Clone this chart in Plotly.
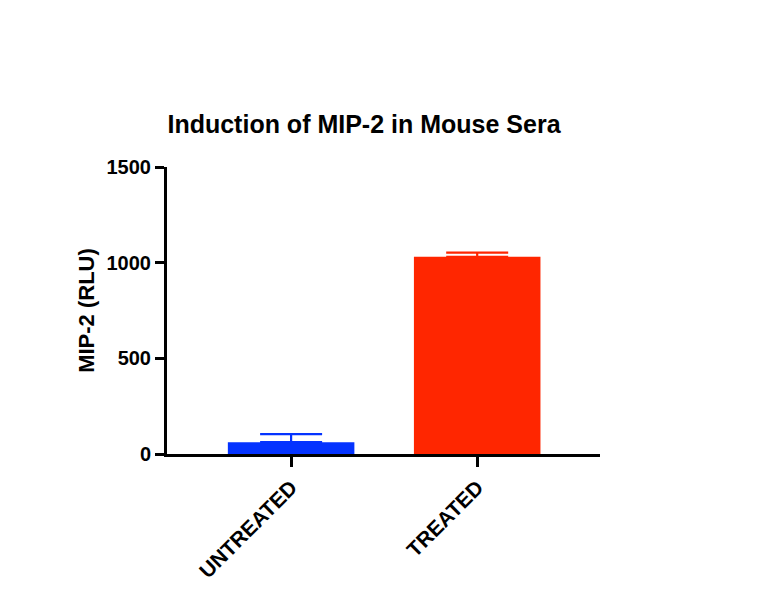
import plotly.graph_objects as go

# values
groups = ["UNTREATED", "TREATED"]
mip2_mean = [62, 1031]
mip2_err = [42, 21]
bar_colors = ["#0433FF", "#FF2600"]
y_ticks = [0, 500, 1000, 1500]

fig = go.Figure()
fig.add_trace(go.Bar(
    x=groups,
    y=mip2_mean,
    width=0.68,
    marker=dict(color=bar_colors, line=dict(width=0)),
    showlegend=False,
))
# error bars take one colour per trace, so draw each group's bar on its own
for g, m, e, c in zip(groups, mip2_mean, mip2_err, bar_colors):
    fig.add_trace(go.Scatter(
        x=[g], y=[m], mode="markers", marker=dict(size=1, color="rgba(0,0,0,0)"),
        error_y=dict(type="data", array=[e], arrayminus=[0], symmetric=False,
                     color=c, thickness=2.2, width=31),
        showlegend=False, hoverinfo="skip",
    ))

font = "Liberation Sans, Arial, sans-serif"
# page sits 8px in from the window edge, margins allow for that
fig.update_layout(
    width=760, height=615,
    margin=dict(l=159, r=168, t=159, b=169),
    plot_bgcolor="white", paper_bgcolor="white",
    font=dict(family=font, color="black"),
    title=dict(text="<b>Induction of MIP-2 in Mouse Sera</b>", x=356 / 760, xanchor="center",
               xref="container", y=1 - 116 / 615, yanchor="middle", font=dict(size=25)),
)
fig.update_xaxes(
    range=[-0.667, 1.66], showline=True, linewidth=3, linecolor="black",
    ticks="outside", ticklen=10, tickwidth=3, tickcolor="black",
    tickangle=-45, tickfont=dict(size=21), showgrid=False, zeroline=False,
    tickvals=groups, ticktext=["<b>%s</b>" % g for g in groups],
)
fig.update_yaxes(
    range=[0, 1500], showline=True, linewidth=3, linecolor="black",
    ticks="outside", ticklen=9, tickwidth=3, tickcolor="black",
    tickvals=y_ticks, ticktext=["<b>%d</b>" % v for v in y_ticks],
    tickfont=dict(size=20), showgrid=False, zeroline=False,
    title=dict(text="<b>MIP-2 (RLU)</b>", font=dict(size=22), standoff=6),
)

fig.write_html("out.html")
